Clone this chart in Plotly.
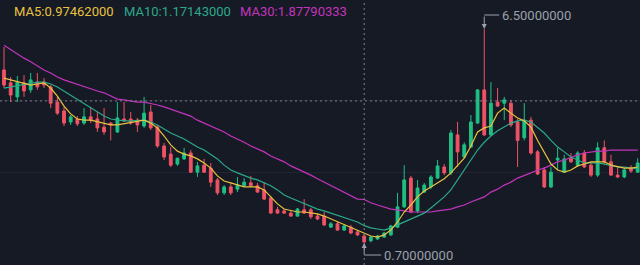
import plotly.graph_objects as go

# ---- data ----
candle_index = list(range(96))

open_ = [5.39, 5.04, 4.66, 5.04, 4.85, 5.06, 5.06, 4.93, 4.52, 4.28,
         3.98, 4.06, 3.95, 4.12, 4.06, 3.84, 3.95, 3.71, 4.06, 4.06,
         4.03, 3.87, 4.25, 3.84, 3.33, 3.11, 2.84, 2.98, 3.14, 2.62,
         2.81, 2.73, 2.41, 2.06, 2.22, 2.16, 2.25, 2.33, 2.25, 2.14,
         1.92, 1.60, 1.57, 1.51, 1.43, 1.60, 1.60, 1.43, 1.43, 1.13,
         1.22, 1.05, 1.13, 1.00, 0.89, 0.76, 0.81, 0.86, 0.92, 1.13,
         1.68, 2.46, 1.57, 2.08, 2.22, 2.46, 2.76, 2.60, 3.63, 3.03,
         3.30, 3.95, 4.85, 3.63, 4.52, 4.49, 4.49, 3.98, 3.55, 4.03,
         3.17, 2.68, 2.22, 2.95, 2.62, 3.00, 2.81, 3.14, 2.81, 2.54,
         3.28, 2.90, 2.54, 2.49, 2.73, 2.62]
high = [6.01, 5.20, 5.23, 5.25, 5.31, 5.31, 5.17, 4.98, 4.66, 4.39,
        4.17, 4.14, 4.36, 4.39, 4.25, 4.36, 3.98, 4.52, 4.52, 4.25,
        4.09, 4.66, 4.44, 3.90, 3.41, 3.30, 3.00, 3.28, 3.22, 2.90,
        2.98, 2.87, 2.46, 2.27, 2.33, 2.49, 2.46, 2.52, 2.33, 2.35,
        1.97, 1.68, 1.62, 1.57, 1.65, 1.89, 1.65, 1.49, 1.54, 1.27,
        1.27, 1.19, 1.19, 1.05, 0.94, 0.89, 0.92, 1.00, 1.19, 2.06,
        2.81, 2.52, 2.41, 2.33, 2.54, 2.95, 2.84, 3.76, 3.98, 3.43,
        4.17, 4.87, 6.50, 5.06, 4.90, 4.66, 4.58, 4.06, 4.49, 4.12,
        3.22, 2.76, 2.76, 3.28, 3.09, 3.14, 3.19, 3.22, 2.90, 3.43,
        3.48, 3.09, 2.76, 2.73, 2.81, 3.00]
low = [4.90, 4.52, 4.52, 4.66, 4.77, 4.85, 4.90, 4.36, 4.17, 3.87,
       3.90, 3.87, 3.90, 3.95, 3.71, 3.63, 3.48, 3.68, 3.98, 3.90,
       3.71, 3.82, 3.76, 3.28, 2.95, 2.76, 2.79, 2.95, 2.60, 2.49,
       2.60, 2.22, 2.00, 2.00, 2.00, 2.08, 2.22, 2.22, 2.06, 1.87,
       1.49, 1.49, 1.49, 1.41, 1.41, 1.49, 1.35, 1.32, 1.16, 1.11,
       1.03, 1.03, 0.94, 0.89, 0.70, 0.72, 0.78, 0.84, 0.89, 1.11,
       1.65, 1.51, 1.51, 2.06, 2.16, 2.44, 2.54, 2.54, 2.76, 3.00,
       3.28, 3.93, 3.60, 3.60, 4.39, 4.03, 3.84, 2.76, 3.48, 3.09,
       2.54, 2.19, 2.19, 2.68, 2.60, 2.87, 2.76, 2.73, 2.49, 2.49,
       2.84, 2.52, 2.46, 2.46, 2.60, 2.60]
close = [4.98, 4.71, 5.06, 4.82, 5.12, 4.93, 4.98, 4.49, 4.22, 3.95,
         4.12, 3.93, 4.12, 4.03, 3.82, 3.71, 3.90, 4.09, 4.01, 3.95,
         3.90, 4.22, 3.82, 3.33, 3.03, 2.81, 3.00, 3.14, 2.62, 2.79,
         2.62, 2.35, 2.06, 2.22, 2.06, 2.27, 2.35, 2.25, 2.08, 1.89,
         1.51, 1.51, 1.51, 1.43, 1.62, 1.51, 1.41, 1.35, 1.19, 1.22,
         1.05, 1.16, 0.97, 0.92, 0.73, 0.86, 0.89, 0.97, 1.16, 1.68,
         2.41, 1.54, 2.19, 2.27, 2.49, 2.79, 2.60, 3.68, 3.17, 3.36,
         3.98, 4.85, 3.63, 4.49, 4.41, 4.58, 3.90, 3.48, 4.03, 3.14,
         2.57, 2.22, 2.62, 3.00, 2.98, 2.90, 3.14, 2.76, 2.54, 3.28,
         2.90, 2.54, 2.49, 2.68, 2.65, 2.87]

ma5 = [5.17, 5.12, 5.06, 5.01, 4.98, 5.01, 5.04, 4.90, 4.68, 4.41,
       4.20, 4.06, 4.03, 4.03, 3.98, 3.93, 3.90, 3.90, 3.93, 3.95,
       3.98, 4.03, 3.95, 3.82, 3.60, 3.36, 3.19, 3.11, 3.06, 2.98,
       2.87, 2.73, 2.52, 2.38, 2.33, 2.27, 2.22, 2.22, 2.22, 2.14,
       1.95, 1.76, 1.62, 1.57, 1.54, 1.54, 1.51, 1.49, 1.43, 1.35,
       1.27, 1.19, 1.11, 1.03, 0.97, 0.89, 0.86, 0.92, 1.05, 1.27,
       1.54, 1.73, 1.95, 2.11, 2.22, 2.33, 2.44, 2.60, 2.79, 3.00,
       3.33, 3.71, 3.82, 3.87, 4.22, 4.36, 4.22, 4.09, 4.01, 3.84,
       3.48, 3.14, 2.84, 2.68, 2.62, 2.68, 2.79, 2.84, 2.90, 2.90,
       2.90, 2.81, 2.76, 2.73, 2.73, 2.76]
ma10 = [4.90, 4.93, 4.98, 5.01, 5.04, 5.06, 5.06, 5.01, 4.93, 4.82,
        4.71, 4.60, 4.49, 4.36, 4.25, 4.14, 4.06, 4.03, 4.01, 4.01,
        4.03, 4.03, 3.98, 3.90, 3.79, 3.68, 3.60, 3.52, 3.41, 3.30,
        3.22, 3.11, 2.98, 2.81, 2.68, 2.60, 2.52, 2.46, 2.41, 2.33,
        2.25, 2.14, 2.00, 1.92, 1.84, 1.76, 1.68, 1.62, 1.57, 1.51,
        1.46, 1.41, 1.35, 1.27, 1.17, 1.11, 1.08, 1.05, 1.11, 1.19,
        1.27, 1.35, 1.43, 1.51, 1.65, 1.79, 1.95, 2.14, 2.41, 2.65,
        2.95, 3.22, 3.43, 3.60, 3.74, 3.84, 3.95, 4.01, 4.03, 3.98,
        3.82, 3.68, 3.48, 3.30, 3.17, 3.03, 2.95, 2.87, 2.87, 2.87,
        2.84, 2.79, 2.76, 2.76, 2.73, 2.71]
ma30 = [6.06, 5.94, 5.82, 5.71, 5.61, 5.50, 5.39, 5.31, 5.20, 5.12,
        5.06, 4.98, 4.93, 4.87, 4.82, 4.77, 4.68, 4.60, 4.58, 4.55,
        4.52, 4.52, 4.49, 4.44, 4.39, 4.33, 4.28, 4.22, 4.14, 4.03,
        3.95, 3.87, 3.79, 3.71, 3.60, 3.52, 3.43, 3.33, 3.25, 3.17,
        3.06, 2.98, 2.90, 2.79, 2.71, 2.62, 2.54, 2.44, 2.35, 2.25,
        2.16, 2.08, 1.97, 1.89, 1.88, 1.79, 1.73, 1.68, 1.62, 1.60,
        1.57, 1.54, 1.54, 1.54, 1.54, 1.57, 1.60, 1.62, 1.68, 1.73,
        1.81, 1.87, 1.95, 2.08, 2.16, 2.27, 2.35, 2.46, 2.52, 2.60,
        2.68, 2.73, 2.81, 2.90, 2.95, 3.03, 3.09, 3.14, 3.17, 3.19,
        3.19, 3.22, 3.22, 3.22, 3.22, 3.22]

legend_texts = ["MA5:0.97462000", "MA10:1.17143000", "MA30:1.87790333"]
crosshair_index = 54
crosshair_price = 4.55
grid_prices = [2.60, 4.55]

# ---- styles ----
BG = "#161a25"
UP = "#1fbf84"
DOWN = "#ee5366"
C_MA5 = "#e9c23f"
C_MA10 = "#2aa98b"
C_MA30 = "#c334bd"
LABEL = "#9ba0ab"
FONT = "Roboto"

fig = go.Figure()
fig.add_trace(go.Candlestick(
    x=candle_index, open=open_, high=high, low=low, close=close,
    increasing=dict(line=dict(color=UP, width=1), fillcolor=UP),
    decreasing=dict(line=dict(color=DOWN, width=1), fillcolor=DOWN),
    hoverinfo="skip", showlegend=False,
))
for vals, col in ((ma30, C_MA30), (ma10, C_MA10), (ma5, C_MA5)):
    fig.add_trace(go.Scatter(x=candle_index, y=vals, mode="lines",
                             line=dict(color=col, width=1.2),
                             hoverinfo="skip", showlegend=False))

# high / low markers
i_hi = max(candle_index, key=lambda i: high[i])
i_lo = min(candle_index, key=lambda i: low[i])
hi_v, lo_v = high[i_hi], low[i_lo]

annotations = [
    dict(x=i_hi, y=hi_v, xref="x", yref="y", text="", showarrow=True,
         ax=0, ay=-14, arrowhead=2, arrowsize=1, arrowwidth=1,
         arrowcolor=LABEL),
    dict(x=i_hi, y=hi_v, xref="x", yref="y", text=f"{hi_v:.8f}",
         showarrow=False, xanchor="left", yanchor="middle",
         xshift=16, yshift=14, font=dict(family=FONT, size=13, color=LABEL)),
    dict(x=i_lo, y=lo_v, xref="x", yref="y", text="", showarrow=True,
         ax=0, ay=12, arrowhead=2, arrowsize=1, arrowwidth=1,
         arrowcolor=LABEL),
    dict(x=i_lo, y=lo_v, xref="x", yref="y", text=f"{lo_v:.8f}",
         showarrow=False, xanchor="left", yanchor="middle",
         xshift=18, yshift=-12, font=dict(family=FONT, size=13, color=LABEL)),
]
leg_x = [12, 122, 238]
for txt, col, px in zip(legend_texts, (C_MA5, C_MA10, C_MA30), leg_x):
    annotations.append(dict(x=px / 640, y=1 - 12 / 265, xref="paper",
                            yref="paper", text=txt, showarrow=False,
                            xanchor="left", yanchor="middle",
                            font=dict(family=FONT, size=13, color=col)))

shapes = [
    dict(type="line", xref="x", yref="y", xsizemode="pixel", ysizemode="pixel",
         xanchor=i_hi, yanchor=hi_v, x0=0, x1=15, y0=14, y1=14,
         line=dict(color=LABEL, width=1)),
    dict(type="line", xref="x", yref="y", xsizemode="pixel", ysizemode="pixel",
         xanchor=i_lo, yanchor=lo_v, x0=0, x1=17, y0=-12, y1=-12,
         line=dict(color=LABEL, width=1)),
    dict(type="line", xref="x", yref="paper", x0=crosshair_index,
         x1=crosshair_index, y0=0, y1=1,
         line=dict(color="#7d818d", width=1, dash="2px,3px")),
    dict(type="line", xref="paper", yref="y", x0=0, x1=1,
         y0=crosshair_price, y1=crosshair_price,
         line=dict(color="#7d818d", width=1, dash="2px,3px")),
]

fig.update_layout(
    width=640, height=265, margin=dict(l=0, r=0, t=0, b=0),
    paper_bgcolor=BG, plot_bgcolor=BG, boxgap=0.4,
    annotations=annotations, shapes=shapes, hovermode=False,
    xaxis=dict(range=[-0.6, 95.35], showgrid=False, zeroline=False,
               showticklabels=False, rangeslider=dict(visible=False)),
    yaxis=dict(range=[0.104, 7.286], tickvals=grid_prices,
               showticklabels=False, gridcolor="#212533", gridwidth=1,
               zeroline=False),
)
fig.write_html("out.html")
